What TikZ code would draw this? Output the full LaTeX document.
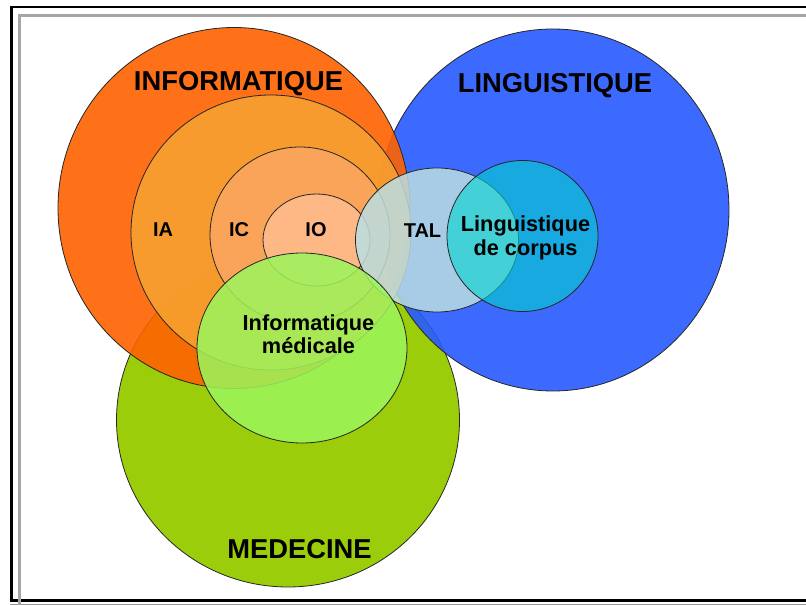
\documentclass[tikz,border=0pt]{standalone}
\usepackage{fontspec}
\setmainfont{Liberation Sans}
\definecolor{cOrange}{RGB}{255,98,0}
\definecolor{cBlue}{RGB}{39,90,255}
\definecolor{cGreen}{RGB}{155,205,10}
\definecolor{cIA}{RGB}{247,163,50}
\definecolor{cIC}{RGB}{250,166,97}
\definecolor{cIO}{RGB}{255,188,143}
\definecolor{cTAL}{RGB}{187,222,226}
\definecolor{cCorpus}{RGB}{0,212,205}
\definecolor{cMed}{RGB}{155,246,92}
\begin{document}
\begin{tikzpicture}[x=0.75pt,y=-0.75pt,
  venn/.style={draw=black!85, line width=0.6pt, fill opacity=0.85},
  biglab/.style={font=\bfseries\fontsize{20.5}{24}\selectfont, inner sep=0pt, anchor=base},
  smalllab/.style={font=\bfseries\fontsize{15}{18}\selectfont, inner sep=0pt, anchor=base},
  twolab/.style={font=\bfseries\fontsize{16.3}{17.6}\selectfont, inner sep=0pt, align=center}]
\useasboundingbox (0,0) rectangle (806,605);
\clip (0,0) rectangle (806,605);
\fill[white] (0,0) rectangle (806,605);
% frame
\draw[black, line width=2.2pt] (830,7) -- (11.5,7) -- (11.5,600.5) -- (830,600.5);
\draw[black!35, line width=2pt] (830,15.5) -- (19.5,15.5) -- (19.5,610);
\draw[black!40, line width=1pt] (10,604.5) -- (830,604.5);
% circles
\filldraw[venn, fill=cGreen, fill opacity=1] (288,420) ellipse [x radius=171.5, y radius=167];
\filldraw[venn, fill=cBlue, fill opacity=0.9] (553,210) ellipse [x radius=176, y radius=181];
\filldraw[venn, fill=cOrange, fill opacity=0.9] (234,208) ellipse [x radius=176, y radius=180.5];
\filldraw[venn, fill=cIA] (271,232.5) ellipse [x radius=140, y radius=137.5];
\filldraw[venn, fill=cIC] (300,235) ellipse [x radius=90, y radius=88];
\filldraw[venn, fill=cIO] (316.5,240) ellipse [x radius=53.5, y radius=46];
\filldraw[venn, fill=cTAL] (437,240) ellipse [x radius=81.5, y radius=72];
\filldraw[venn, fill=cCorpus, fill opacity=0.6] (522.5,236) circle [radius=75.5];
\filldraw[venn, fill=cMed] (302,348) ellipse [x radius=105, y radius=95];
% labels
\node[biglab] (inf) at (238.5,90.5) {INFORMATIQUE};
\node[biglab] (ling) at (555,92.7) {LINGUISTIQUE};
\node[biglab] (med) at (299.5,558) {MEDECINE};
\node[smalllab] (ia) at (163,237) {IA};
\node[smalllab] (ic) at (239,237) {IC};
\node[smalllab] (io) at (316,237) {IO};
\node[smalllab] (tal) at (422.5,237.3) {TAL};
\node[twolab] (corpus) at (525.5,237.7) {Linguistique\\de corpus};
\node[twolab] (infmed) at (308.5,334.5) {Informatique\\médicale};
\end{tikzpicture}
\end{document}
